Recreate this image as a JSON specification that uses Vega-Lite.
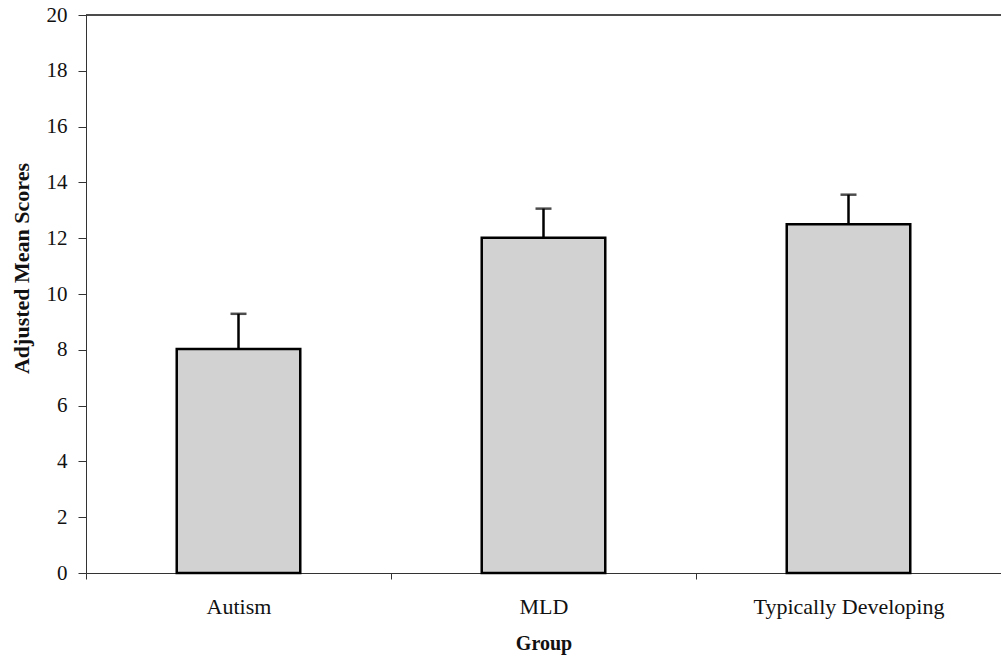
{
  "$schema": "https://vega.github.io/schema/vega-lite/v6.json",
  "width": 915,
  "height": 558,
  "autosize": "none",
  "padding": {"left": 86, "top": 15, "right": 0, "bottom": 90},
  "background": "white",
  "config": {
    "view": {"stroke": null},
    "font": "Liberation Serif",
    "axis": {
      "labelFont": "Liberation Serif",
      "titleFont": "Liberation Serif",
      "labelFontSize": 21,
      "titleFontSize": 20,
      "titleFontWeight": "bold",
      "labelColor": "#111",
      "titleColor": "#111",
      "domainColor": "#333",
      "tickColor": "#333",
      "labelLimit": 0,
      "grid": false
    }
  },
  "data": {
    "values": [
      {"Group": "Autism", "mean": 8.03, "upper": 9.29},
      {"Group": "MLD", "mean": 12.02, "upper": 13.06},
      {"Group": "Typically Developing", "mean": 12.5, "upper": 13.56}
    ]
  },
  "encoding": {
    "x": {
      "field": "Group",
      "type": "nominal",
      "sort": null,
      "scale": {"paddingInner": 0, "paddingOuter": 0},
      "axis": {
        "title": "Group",
        "labelAngle": 0,
        "labelFontSize": 22,
        "tickBand": "extent",
        "tickSize": 6,
        "labelPadding": 17,
        "titlePadding": 16
      }
    }
  },
  "layer": [
    {
      "mark": {"type": "bar", "width": {"band": 0.405}, "fill": "#d2d2d2", "stroke": "#000", "strokeWidth": 2.5},
      "encoding": {
        "y": {
          "field": "mean",
          "type": "quantitative",
          "scale": {"domain": [0, 20]},
          "axis": {
            "title": "Adjusted Mean Scores",
            "titleFontSize": 22,
            "titleY": 253,
            "values": [0, 2, 4, 6, 8, 10, 12, 14, 16, 18, 20],
            "tickSize": 8,
            "labelPadding": 11,
            "titlePadding": 13
          }
        }
      }
    },
    {
      "mark": {"type": "rule", "stroke": "#000", "strokeWidth": 2.5},
      "encoding": {
        "y": {"field": "mean", "type": "quantitative"},
        "y2": {"field": "upper"}
      }
    },
    {
      "mark": {"type": "tick", "color": "#000", "thickness": 2.5, "size": 16, "orient": "horizontal"},
      "encoding": {
        "y": {"field": "upper", "type": "quantitative"}
      }
    },
    {
      "mark": {"type": "rule", "stroke": "#333", "strokeWidth": 1},
      "encoding": {"y": {"datum": 20}, "x": {"value": 0}, "x2": {"value": 915}}
    }
  ]
}
